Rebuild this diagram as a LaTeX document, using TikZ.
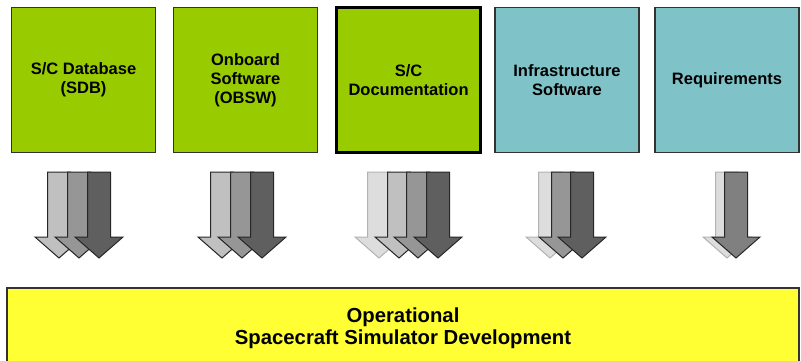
\documentclass[tikz,border=0pt]{standalone}
\usepackage{fontspec}
\setmainfont{Liberation Sans}
\usetikzlibrary{positioning}

\definecolor{srcgreen}{HTML}{99CC00}
\definecolor{infoteal}{HTML}{7FC3C8}
\definecolor{simyellow}{HTML}{FFFF33}
\definecolor{flowA}{HTML}{C0C0C0}
\definecolor{flowB}{HTML}{969696}
\definecolor{flowC}{HTML}{5F5F5F}
\definecolor{flowD}{HTML}{808080}
\definecolor{flowfaint}{HTML}{DDDDDD}

% block arrow pointing down: tip x, fill, outline
\newcommand{\flowarrow}[3]{%
  \filldraw[fill=#2, draw=#3, line width=1pt, line join=miter]
    (#1-11.5,172) -- (#1+11.5,172) -- (#1+11.5,237) -- (#1+24,237)
    -- (#1,258) -- (#1-24,237) -- (#1-11.5,237) -- cycle;}

\begin{document}
\begin{tikzpicture}[x=1pt, y=-1pt,
  source/.style={draw=black!80, line width=1.3pt, fill=srcgreen,
    minimum width=144pt, minimum height=145pt, inner sep=0pt,
    align=center, font=\fontsize{16.5}{19}\selectfont\bfseries},
  infra/.style={source, fill=infoteal},
  target/.style={draw=black!80, line width=1.3pt, fill=simyellow,
    minimum width=792pt, minimum height=80pt, inner sep=0pt,
    align=center, font=\fontsize{20.3}{22.5}\selectfont\bfseries}]
        \useasboundingbox (0,0) rectangle (801,360);

        \node[source] (sdb) at (83.5,80) {S/C Database\\(SDB)};
        \node[source, right=16.7pt of sdb] (obsw) {Onboard\\Software\\(OBSW)};
        \node[source, line width=3pt, draw=black, right=16.9pt of obsw] (doc) {S/C\\Documentation};
        \node[infra, right=12.3pt of doc] (infsw) {Infrastructure\\Software};
        \node[infra, right=14.7pt of infsw] (req) {Requirements};

        \node[target] (dev) at (403,328) {Operational\\Spacecraft Simulator Development};

        % data flowing down into the simulator
        \flowarrow{59}{flowA}{black!85}
        \flowarrow{79}{flowB}{black!85}
        \flowarrow{99}{flowC}{black!85}

        \flowarrow{222}{flowA}{black!85}
        \flowarrow{242}{flowB}{black!85}
        \flowarrow{262}{flowC}{black!85}

        \flowarrow{379}{flowfaint}{black!30}
        \flowarrow{399}{flowA}{black!85}
        \flowarrow{418}{flowB}{black!85}
        \flowarrow{438}{flowC}{black!85}

        \flowarrow{550}{flowfaint}{black!30}
        \flowarrow{563}{flowB}{black!85}
        \flowarrow{582}{flowC}{black!85}

        \flowarrow{727}{flowfaint}{black!30}
        \flowarrow{736}{flowD}{black!85}
\end{tikzpicture}
\end{document}
